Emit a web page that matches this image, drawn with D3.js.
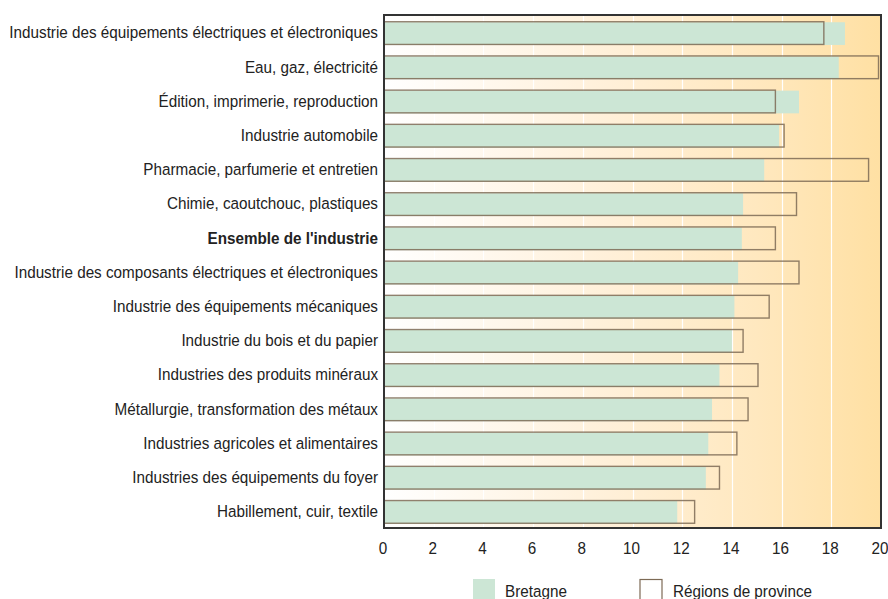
<!DOCTYPE html>
<html>
<head>
<meta charset="utf-8">
<script src="https://cdn.jsdelivr.net/npm/d3@7"></script>
<style>
  html, body { margin: 0; padding: 0; background: #fff; }
  svg { display: block; }
  text { font-family: "Liberation Sans", Arial, sans-serif; fill: #222; }
</style>
</head>
<body>
<svg id="chart" width="888" height="599"></svg>
<script>
// Sectors, top to bottom
const categories = [
  "Industrie des équipements électriques et électroniques",
  "Eau, gaz, électricité",
  "Édition, imprimerie, reproduction",
  "Industrie automobile",
  "Pharmacie, parfumerie et entretien",
  "Chimie, caoutchouc, plastiques",
  "Ensemble de l'industrie",
  "Industrie des composants électriques et électroniques",
  "Industrie des équipements mécaniques",
  "Industrie du bois et du papier",
  "Industries des produits minéraux",
  "Métallurgie, transformation des métaux",
  "Industries agricoles et alimentaires",
  "Industries des équipements du foyer",
  "Habillement, cuir, textile"
];
const bretagne = [18.55, 18.3, 16.7, 15.9, 15.3, 14.45, 14.4, 14.25, 14.1, 14.0, 13.5, 13.2, 13.05, 12.95, 11.8];
const province = [17.7, 19.9, 15.75, 16.1, 19.5, 16.6, 15.75, 16.7, 15.5, 14.45, 15.05, 14.65, 14.2, 13.5, 12.5];
const xTicks = [0, 2, 4, 6, 8, 10, 12, 14, 16, 18, 20];
const totalLabel = "Ensemble de l'industrie";
const legendItems = ["Bretagne", "Régions de province"];

const svg = d3.select("#chart");
const plotL = 384, plotR = 881, plotT = 15, plotB = 528;
const fontSize = 16.5, squeeze = 0.925; // slightly condensed lettering

const x = d3.scaleLinear().domain([0, 20]).range([plotL, plotR]);
const y = d3.scaleBand().domain(categories).range([plotT + 1.5, plotB + 1.5])
  .paddingInner(0.336).paddingOuter(0.168);

// Background gradient
const defs = svg.append("defs");
const grad = defs.append("linearGradient").attr("id", "bg")
  .attr("x1", "0%").attr("x2", "100%").attr("y1", "0%").attr("y2", "0%");
grad.append("stop").attr("offset", "0%").attr("stop-color", "#ffffff");
grad.append("stop").attr("offset", "45%").attr("stop-color", "#fff0d9");
grad.append("stop").attr("offset", "75%").attr("stop-color", "#ffe8bf");
grad.append("stop").attr("offset", "100%").attr("stop-color", "#ffe0a3");

svg.append("rect")
  .attr("x", plotL).attr("y", plotT)
  .attr("width", plotR - plotL).attr("height", plotB - plotT)
  .attr("fill", "url(#bg)");

// Vertical white gridlines
svg.append("g").selectAll("line")
  .data(xTicks.filter(d => d > 0 && d < 20))
  .join("line")
  .attr("x1", d => Math.round(x(d)) + 0.5).attr("x2", d => Math.round(x(d)) + 0.5)
  .attr("y1", plotT).attr("y2", plotB)
  .attr("stroke", "#ffffff").attr("stroke-width", 1.2);

// Bretagne bars (filled)
svg.append("g").selectAll("rect")
  .data(categories)
  .join("rect")
  .attr("x", x(0))
  .attr("y", d => y(d))
  .attr("width", (d, i) => x(bretagne[i]) - x(0))
  .attr("height", y.bandwidth())
  .attr("fill", "#cce6d5");

// Province bars (outlined)
svg.append("g").selectAll("rect")
  .data(categories)
  .join("rect")
  .attr("x", x(0))
  .attr("y", d => y(d) - 0.5)
  .attr("width", (d, i) => x(province[i]) - x(0))
  .attr("height", y.bandwidth())
  .attr("fill", "none")
  .attr("stroke", "#7d6a55")
  .attr("stroke-opacity", 0.85)
  .attr("stroke-width", 1.4);

// Frame
svg.append("rect")
  .attr("x", plotL).attr("y", plotT)
  .attr("width", plotR - plotL).attr("height", plotB - plotT)
  .attr("fill", "none").attr("stroke", "#333").attr("stroke-width", 2);

// Helper: place condensed text at (tx, ty)
function placed(sel, tx, ty) {
  return sel.attr("transform", (d, i) => `translate(${tx(d, i)},${ty(d, i)}) scale(${squeeze},1)`);
}

// Category labels
placed(svg.append("g").selectAll("text")
  .data(categories)
  .join("text"), () => plotL - 6, d => y(d) + y.bandwidth() / 2 - 1)
  .attr("text-anchor", "end")
  .attr("dominant-baseline", "central")
  .attr("font-size", fontSize)
  .attr("font-weight", d => d === totalLabel ? "bold" : "normal")
  .text(d => d);

// X axis tick labels
placed(svg.append("g").selectAll("text")
  .data(xTicks)
  .join("text"), d => x(d) - 1, () => 548)
  .attr("text-anchor", "middle")
  .attr("dominant-baseline", "central")
  .attr("font-size", fontSize)
  .text(d => d);

// Legend
const lg = svg.append("g");
lg.append("rect").attr("x", 473).attr("y", 579).attr("width", 22).attr("height", 24)
  .attr("fill", "#cce6d5");
lg.append("rect").attr("x", 640).attr("y", 579.5).attr("width", 22).attr("height", 24)
  .attr("fill", "#fff").attr("stroke", "#7d6a55").attr("stroke-width", 1.2);
placed(lg.selectAll("text")
  .data(legendItems)
  .join("text"), (d, i) => [505, 673][i], () => 597)
  .attr("font-size", fontSize)
  .text(d => d);
</script>
</body>
</html>
